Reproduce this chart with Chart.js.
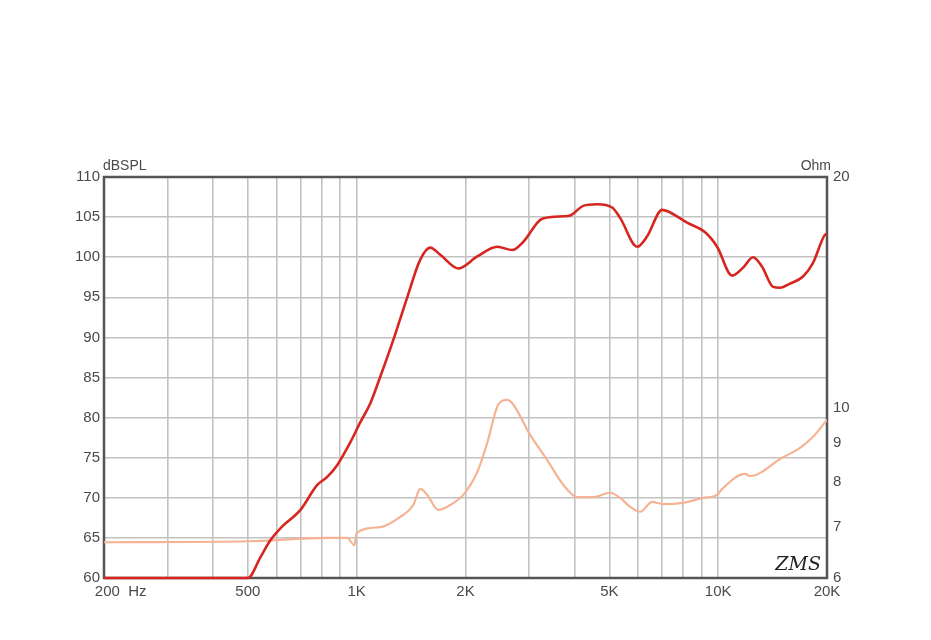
<!DOCTYPE html>
<html>
<head>
<meta charset="utf-8">
<script src="https://cdn.jsdelivr.net/npm/chart.js@4.4.1/dist/chart.umd.min.js"></script>
<style>
  html, body { margin: 0; padding: 0; background: #fff; }
  #wrap { width: 931px; height: 640px; }
</style>
</head>
<body>
<div id="wrap"><canvas id="c" width="931" height="640"></canvas></div>
<script>
// ---- Data ----
const SPL_FREQ = [200, 500, 542, 577, 615, 699, 778, 829, 884, 960, 1023, 1091, 1162, 1263, 1380, 1499, 1598, 1703, 1910, 2156, 2448, 2694, 2888, 3260, 3728, 3898, 4232, 4626, 5090, 5356, 5970, 6360, 6998, 7270, 8204, 9202, 9932, 10928, 11722, 12490, 13228, 14186, 14830, 15810, 17166, 18300, 19748, 20000];
const SPL_DB = [60, 60, 62.6, 64.7, 66.2, 68.5, 71.6, 72.6, 74.1, 76.9, 79.4, 81.8, 85.1, 89.7, 95.0, 99.7, 101.2, 100.3, 98.6, 100.1, 101.3, 100.9, 101.9, 104.8, 105.1, 105.2, 106.4, 106.6, 106.2, 104.9, 101.3, 102.6, 105.9, 105.7, 104.3, 103.1, 101.3, 97.7, 98.7, 100, 98.8, 96.3, 96.2, 96.7, 97.6, 99.3, 102.8, 102.9];

const Z_FREQ = [200, 500, 829, 942, 985, 1000, 1162, 1320, 1434, 1499, 1568, 1682, 1815, 1971, 2156, 2297, 2464, 2609, 2710, 3020, 3366, 3728, 4075, 4510, 5026, 5356, 5708, 6083, 6566, 7044, 7998, 9084, 9932, 10258, 11872, 12256, 15020, 16844, 18300, 20000];
const Z_OHM = [6.68, 6.70, 6.77, 6.77, 6.62, 6.87, 6.99, 7.21, 7.47, 7.84, 7.70, 7.36, 7.47, 7.70, 8.25, 9.00, 10.10, 10.24, 10.10, 9.22, 8.55, 7.94, 7.65, 7.65, 7.75, 7.63, 7.43, 7.32, 7.54, 7.49, 7.52, 7.63, 7.70, 7.84, 8.20, 8.15, 8.61, 8.87, 9.17, 9.65];

// ---- Tick labels ----
const X_GRID = [200, 300, 400, 500, 600, 700, 800, 900, 1000, 2000, 3000, 4000, 5000, 6000, 7000, 8000, 9000, 10000, 20000];
const X_LABEL_VALUES = [200, 500, 1000, 2000, 5000, 10000, 20000];
const X_LABEL_TEXTS = ['        200  Hz', '500', '1K', '2K', '5K', '10K', '20K'];
const Y_LEFT_TICKS = [60, 65, 70, 75, 80, 85, 90, 95, 100, 105, 110];
const Y_RIGHT_TICKS = [6, 7, 8, 9, 10, 20];

const FONT = "'Liberation Sans', Arial, sans-serif";
const TXT = '#4a4a4a';
const GRID = '#c2c2c2';

const frame = {
  id: 'frame',
  beforeDatasetsDraw(chart) {
    const a = chart.chartArea, ctx = chart.ctx;
    ctx.save();
    ctx.strokeStyle = '#555';
    ctx.lineWidth = 2.5;
    ctx.strokeRect(a.left, a.top, a.right - a.left, a.bottom - a.top);
    ctx.restore();
  },
  afterDraw(chart) {
    const a = chart.chartArea, ctx = chart.ctx;
    ctx.save();
    ctx.fillStyle = TXT;
    ctx.font = '14px ' + FONT;
    ctx.textBaseline = 'alphabetic';
    ctx.textAlign = 'left';
    ctx.fillText('dBSPL', a.left - 1, a.top - 7);
    ctx.textAlign = 'right';
    ctx.fillText('Ohm', a.right + 4, a.top - 7);
    ctx.font = 'italic 19px "DejaVu Serif", serif';
    ctx.fillStyle = '#222';
    ctx.textAlign = 'right';
    ctx.fillText('ZMS', a.right - 6, a.bottom - 8);
    ctx.restore();
  }
};

new Chart(document.getElementById('c'), {
  type: 'line',
  data: {
    datasets: [
      {
        label: 'SPL',
        data: SPL_FREQ.map((f, i) => ({ x: f, y: SPL_DB[i] })),
        yAxisID: 'y',
        borderColor: '#d6261f',
        borderWidth: 2.6,
        pointRadius: 0,
        cubicInterpolationMode: 'monotone',
        fill: false,
        clip: 4,
        order: 1
      },
      {
        label: 'Impedance',
        data: Z_FREQ.map((f, i) => ({ x: f, y: Z_OHM[i] })),
        yAxisID: 'y2',
        borderColor: '#f5b394',
        borderWidth: 2.2,
        pointRadius: 0,
        cubicInterpolationMode: 'monotone',
        fill: false,
        order: 2
      }
    ]
  },
  options: {
    responsive: false,
    animation: false,
    events: [],
    layout: { padding: { top: 177, left: 0, right: 0, bottom: 0 } },
    plugins: { legend: { display: false }, tooltip: { enabled: false }, title: { display: false } },
    scales: {
      x: {
        type: 'logarithmic',
        min: 200, max: 20000,
        afterBuildTicks: s => { s.ticks = X_GRID.map(v => ({ value: v })); },
        afterFit: s => { s.height = 62; },
        border: { display: false },
        grid: { color: GRID, lineWidth: 1.6, drawTicks: false },
        ticks: {
          autoSkip: false, maxRotation: 0, minRotation: 0, padding: 5,
          color: TXT, font: { family: FONT, size: 15 },
          callback: v => { const i = X_LABEL_VALUES.indexOf(v); return i >= 0 ? X_LABEL_TEXTS[i] : ''; }
        }
      },
      y: {
        type: 'linear', position: 'left',
        min: 60, max: 110,
        afterBuildTicks: s => { s.ticks = Y_LEFT_TICKS.map(v => ({ value: v })); },
        afterFit: s => { s.width = 104; },
        border: { display: false },
        grid: { color: GRID, lineWidth: 1.6, drawTicks: false },
        ticks: { padding: 4, color: TXT, font: { family: FONT, size: 15 } }
      },
      y2: {
        type: 'logarithmic', position: 'right',
        min: 6, max: 20,
        afterBuildTicks: s => { s.ticks = Y_RIGHT_TICKS.map(v => ({ value: v })); },
        afterFit: s => { s.width = 104; },
        border: { display: false },
        grid: { display: false, drawTicks: false },
        ticks: { padding: 6, color: TXT, font: { family: FONT, size: 15 }, callback: v => String(v) }
      }
    }
  },
  plugins: [frame]
});
</script>
</body>
</html>
